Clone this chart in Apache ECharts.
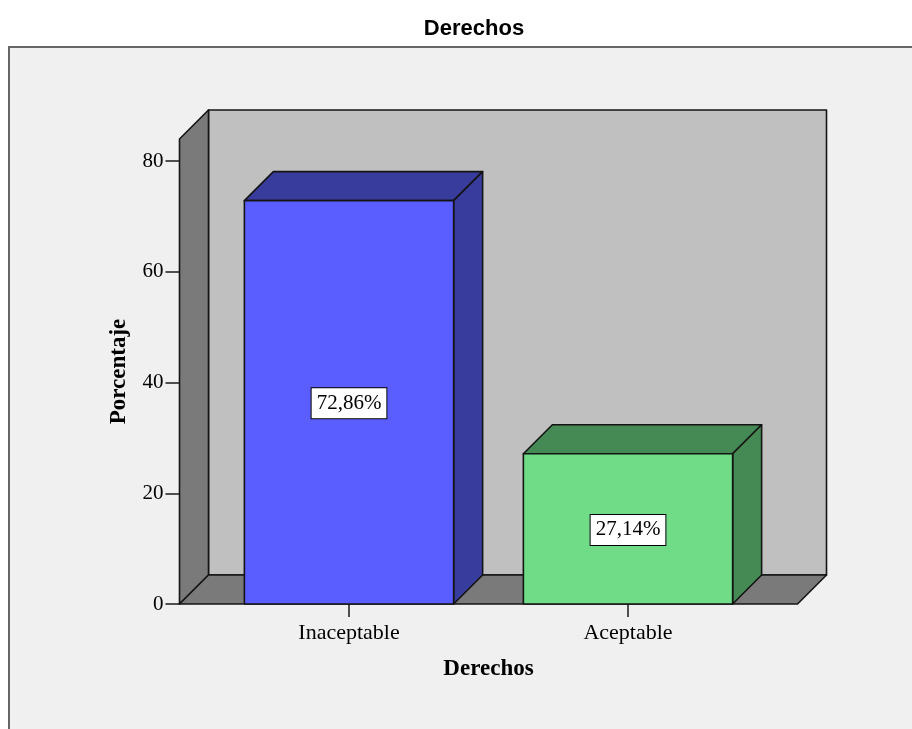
<!DOCTYPE html>
<html>
<head>
<meta charset="utf-8">
<script src="https://cdn.jsdelivr.net/npm/echarts@6/dist/echarts.min.js"></script>
<style>
  html, body { margin: 0; padding: 0; background: #ffffff; }
  #chart { width: 912px; height: 729px; }
</style>
</head>
<body>
<div id="chart"></div>
<script>
// Categories and percentages shown by the bars
const categories = ['Inaceptable', 'Aceptable'];
const percentages = [72.86, 27.14];
const yTicks = [0, 20, 40, 60, 80];
const yMax = 84;

// Styling of the 3D box and bars
const faceColors = ['#5a5eff', '#70dc87'];
const shadeColors = ['#383c9c', '#458a55'];
const DEPTH = 29;      // oblique depth offset in px
const PAD = 30;        // floor overhang beyond the category band
const SERIF = '"Liberation Serif", "Times New Roman", serif';

function pct(v) {
  return v.toFixed(2).replace('.', ',') + '%';
}

const edge = { stroke: '#141414', lineWidth: 1.6, lineJoin: 'round' };

// Back wall, side wall and floor of the 3D frame
function renderFrame(params, api) {
  const cs = params.coordSys;
  const yb = api.coord([0, 0])[1];
  const yt = cs.y;
  const x0 = cs.x - PAD;
  const x1 = cs.x + cs.width + PAD;
  const d = DEPTH;
  return {
    type: 'group',
    children: [
      { type: 'polygon', shape: { points: [[x0 + d, yt - d], [x1 + d, yt - d], [x1 + d, yb - d], [x0 + d, yb - d]] },
        style: Object.assign({ fill: '#c0c0c0' }, edge) },
      { type: 'polygon', shape: { points: [[x0, yt], [x0 + d, yt - d], [x0 + d, yb - d], [x0, yb]] },
        style: Object.assign({ fill: '#7a7a7a' }, edge) },
      { type: 'polygon', shape: { points: [[x0, yb], [x0 + d, yb - d], [x1 + d, yb - d], [x1, yb]] },
        style: Object.assign({ fill: '#7a7a7a' }, edge) }
    ]
  };
}

// One oblique-projected 3D bar with its value box
function renderBar(params, api) {
  const i = api.value(0);
  const v = api.value(1);
  const top = api.coord([i, v]);
  const base = api.coord([i, 0]);
  const w = api.size([1, 0])[0] * 0.75;
  const xl = top[0] - w / 2;
  const xr = top[0] + w / 2;
  const yt = top[1];
  const yb = base[1];
  const d = DEPTH;
  return {
    type: 'group',
    children: [
      { type: 'polygon', shape: { points: [[xl, yt], [xl + d, yt - d], [xr + d, yt - d], [xr, yt]] },
        style: Object.assign({ fill: shadeColors[i] }, edge) },
      { type: 'polygon', shape: { points: [[xr, yt], [xr + d, yt - d], [xr + d, yb - d], [xr, yb]] },
        style: Object.assign({ fill: shadeColors[i] }, edge) },
      { type: 'rect', shape: { x: xl, y: yt, width: w, height: yb - yt },
        style: Object.assign({ fill: faceColors[i] }, edge) },
      { type: 'text', x: top[0], y: (yt + yb) / 2 + 1,
        style: {
          text: pct(v), fontFamily: SERIF, fontSize: 21, fill: '#000',
          align: 'center', verticalAlign: 'middle',
          backgroundColor: '#ffffff', borderColor: '#000000', borderWidth: 1,
          padding: [5, 5, 4, 5]
        } }
    ]
  };
}

const chart = echarts.init(document.getElementById('chart'));
chart.setOption({
  backgroundColor: '#ffffff',
  animation: false,
  title: {
    text: 'Derechos', left: 469, top: 13, textAlign: 'center',
    textStyle: { fontFamily: '"Liberation Sans", Arial, sans-serif', fontWeight: 'bold', fontSize: 22, color: '#000' }
  },
  graphic: [{
    type: 'rect', z: -10, silent: true,
    shape: { x: 9, y: 47, width: 930, height: 720 },
    style: { fill: '#f0f0f0', stroke: '#666666', lineWidth: 2 }
  }],
  grid: { left: 209.5, right: 144.5, top: 139, bottom: 125 },
  xAxis: {
    type: 'category',
    data: categories,
    name: 'Derechos',
    nameLocation: 'middle',
    nameGap: 54,
    nameTextStyle: { fontFamily: SERIF, fontWeight: 'bold', fontSize: 23, color: '#000', verticalAlign: 'top' },
    axisLine: { show: false },
    axisTick: { show: true, alignWithLabel: true, length: 13, lineStyle: { color: '#1a1a1a', width: 1.5 } },
    axisLabel: { margin: 18, fontFamily: SERIF, fontSize: 22, color: '#000' },
    splitLine: { show: false }
  },
  yAxis: {
    type: 'value',
    min: 0,
    max: yMax,
    offset: 30,
    name: 'Porcentaje',
    nameLocation: 'middle',
    nameRotate: 90,
    nameGap: 49,
    nameTextStyle: { fontFamily: SERIF, fontWeight: 'bold', fontSize: 23, color: '#000' },
    axisLine: { show: false },
    axisTick: { show: true, length: 14, customValues: yTicks, lineStyle: { color: '#1a1a1a', width: 1.5 } },
    axisLabel: { margin: 16, customValues: yTicks, fontFamily: SERIF, fontSize: 21, color: '#000' },
    splitLine: { show: false }
  },
  series: [
    { type: 'custom', renderItem: renderFrame, data: [[0, 0]], z: 1, silent: true },
    { type: 'custom', renderItem: renderBar, data: percentages.map((v, i) => [i, v]), z: 2 }
  ]
});
</script>
</body>
</html>
